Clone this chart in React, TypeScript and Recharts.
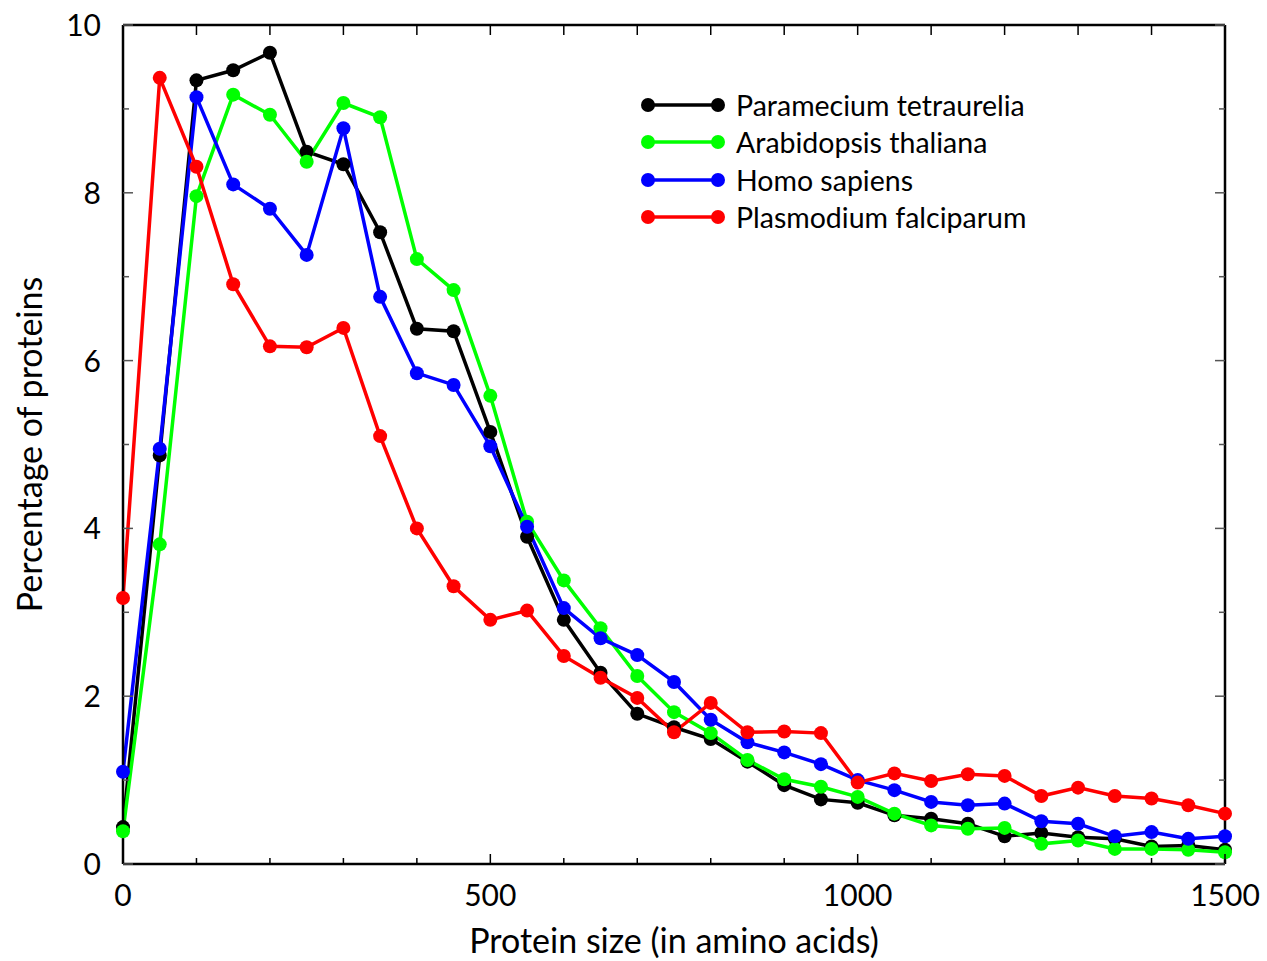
import { Legend, Line, LineChart, XAxis, YAxis } from "recharts"

const proteinSize = [
  0, 50, 100, 150, 200, 250, 300, 350, 400, 450, 500, 550, 600, 650, 700, 750,
  800, 850, 900, 950, 1000, 1050, 1100, 1150, 1200, 1250, 1300, 1350, 1400, 1450, 1500,
]

const paramecium = [
  0.44, 4.87, 9.34, 9.46, 9.67, 8.49, 8.34, 7.53, 6.38, 6.35, 5.15, 3.9, 2.91, 2.28, 1.79, 1.63,
  1.49, 1.22, 0.94, 0.77, 0.73, 0.58, 0.54, 0.48, 0.33, 0.37, 0.32, 0.3, 0.21, 0.22, 0.17,
]
const arabidopsis = [
  0.39, 3.81, 7.96, 9.17, 8.93, 8.37, 9.07, 8.9, 7.21, 6.84, 5.58, 4.08, 3.38, 2.81, 2.24, 1.81,
  1.56, 1.24, 1.01, 0.92, 0.8, 0.6, 0.46, 0.42, 0.43, 0.24, 0.28, 0.18, 0.18, 0.17, 0.14,
]
const homo = [
  1.1, 4.95, 9.14, 8.1, 7.81, 7.26, 8.77, 6.76, 5.85, 5.71, 4.98, 4.02, 3.05, 2.69, 2.49, 2.17,
  1.72, 1.45, 1.33, 1.19, 1.0, 0.88, 0.74, 0.7, 0.72, 0.51, 0.48, 0.33, 0.38, 0.3, 0.33,
]
const plasmodium = [
  3.17, 9.37, 8.31, 6.91, 6.17, 6.16, 6.39, 5.1, 4.0, 3.31, 2.91, 3.02, 2.48, 2.22, 1.98, 1.57,
  1.92, 1.57, 1.58, 1.56, 0.97, 1.08, 0.99, 1.07, 1.05, 0.81, 0.91, 0.81, 0.78, 0.7, 0.6,
]

const xTicks = [0, 100, 200, 300, 400, 500, 600, 700, 800, 900, 1000, 1100, 1200, 1300, 1400, 1500]
const xLabels = [0, 500, 1000, 1500]
const yTicks = [0, 1, 2, 3, 4, 5, 6, 7, 8, 9, 10]
const yLabels = [0, 2, 4, 6, 8, 10]

// x/y axis ids: the frame axes (top, right) get bound to series so they draw
const series = [
  { key: "paramecium", name: "Paramecium tetraurelia", color: "#000000", values: paramecium, xId: "bottom", yId: "left" },
  { key: "arabidopsis", name: "Arabidopsis thaliana", color: "#00ff00", values: arabidopsis, xId: "top", yId: "left" },
  { key: "homo", name: "Homo sapiens", color: "#0000ff", values: homo, xId: "bottom", yId: "right" },
  { key: "plasmodium", name: "Plasmodium falciparum", color: "#ff0000", values: plasmodium, xId: "bottom", yId: "left" },
]

const data = proteinSize.map((size, i) => {
  const row: any = { size }
  series.forEach((s) => (row[s.key] = s.values[i]))
  return row
})

const FONT = "Lato, 'Open Sans', sans-serif"

const BottomTick = ({ x, y, payload }: any) => {
  const major = xLabels.includes(payload.value)
  return (
    <g>
      <line x1={x} y1={y} x2={x} y2={y - (major ? 10 : 6)} stroke="#000" strokeWidth={1.5} />
      {major && (
        <text x={x} y={y + 42} textAnchor="middle" fontSize={30} fontFamily={FONT} fill="#000">
          {payload.value}
        </text>
      )}
    </g>
  )
}

const TopTick = ({ x, y }: any) => (
  <line x1={x} y1={y} x2={x} y2={y + 10} stroke="#000" strokeWidth={1.5} />
)

const LeftTick = ({ x, y, payload }: any) => {
  const major = yLabels.includes(payload.value)
  return (
    <g>
      <line x1={x} y1={y} x2={x + (major ? 10 : 6)} y2={y} stroke="#555" strokeWidth={1.5} />
      {major && (
        <text x={x - 22} y={y + 11} textAnchor="end" fontSize={30} fontFamily={FONT} fill="#000">
          {payload.value}
        </text>
      )}
    </g>
  )
}

const RightTick = ({ x, y, payload }: any) => {
  const major = yLabels.includes(payload.value)
  return <line x1={x} y1={y} x2={x - (major ? 10 : 6)} y2={y} stroke="#555" strokeWidth={1.5} />
}

const YTitle = ({ viewBox }: any) => {
  const cx = 28
  const cy = viewBox.y + viewBox.height / 2
  return (
    <text
      x={cx}
      y={cy}
      transform={`rotate(-90 ${cx} ${cy})`}
      textAnchor="middle"
      dominantBaseline="central"
      fontSize={34}
      fontFamily={FONT}
      fill="#000"
    >
      Percentage of proteins
    </text>
  )
}

const XTitle = ({ viewBox }: any) => (
  <text
    x={viewBox.x + viewBox.width / 2}
    y={viewBox.y + 89}
    textAnchor="middle"
    fontSize={34}
    fontFamily={FONT}
    fill="#000"
  >
    Protein size (in amino acids)
  </text>
)

const LegendContent = () => (
  <div style={{ fontFamily: FONT, fontSize: 28.5 }}>
    {series.map((s) => (
      <div key={s.key} style={{ display: "flex", alignItems: "center", height: 37.5 }}>
        <svg width={96} height={20} style={{ flex: "none" }}>
          <line x1={8} y1={10} x2={78} y2={10} stroke={s.color} strokeWidth={3.5} />
          <circle cx={8} cy={10} r={7} fill={s.color} />
          <circle cx={78} cy={10} r={7} fill={s.color} />
        </svg>
        <span style={{ color: "#000", whiteSpace: "nowrap" }}>{s.name}</span>
      </div>
    ))}
  </div>
)

export default function App() {
  return (
    <div style={{ position: "absolute", left: 0, top: 0, background: "#fff" }}>
      <LineChart width={1267} height={961} data={data} margin={{ top: 24, right: 41, bottom: 0, left: 0 }}>
        <XAxis
          xAxisId="bottom"
          dataKey="size"
          type="number"
          domain={[0, 1500]}
          ticks={xTicks}
          interval={0}
          height={97}
          tickSize={0}
          tickMargin={0}
          tickLine={false}
          axisLine={{ stroke: "#000", strokeWidth: 2.5 }}
          tick={<BottomTick />}
          label={<XTitle />}
        />
        <XAxis
          xAxisId="top"
          orientation="top"
          dataKey="size"
          type="number"
          domain={[0, 1500]}
          ticks={xTicks}
          interval={0}
          height={1}
          tickSize={0}
          tickMargin={0}
          tickLine={false}
          axisLine={{ stroke: "#000", strokeWidth: 2.5 }}
          tick={<TopTick />}
        />
        <YAxis
          yAxisId="left"
          type="number"
          domain={[0, 10]}
          ticks={yTicks}
          interval={0}
          width={123}
          tickSize={0}
          tickMargin={0}
          tickLine={false}
          axisLine={{ stroke: "#000", strokeWidth: 2.5 }}
          tick={<LeftTick />}
          label={<YTitle />}
        />
        <YAxis
          yAxisId="right"
          orientation="right"
          type="number"
          domain={[0, 10]}
          ticks={yTicks}
          interval={0}
          width={1}
          tickSize={0}
          tickMargin={0}
          tickLine={false}
          axisLine={{ stroke: "#000", strokeWidth: 2.5 }}
          tick={<RightTick />}
        />
        <Legend
          layout="vertical"
          align="center"
          verticalAlign="middle"
          wrapperStyle={{ left: 640, top: 86, width: 440 }}
          content={<LegendContent />}
        />
        {series.map((s) => (
          <Line
            key={s.key}
            xAxisId={s.xId}
            yAxisId={s.yId}
            dataKey={s.key}
            name={s.name}
            stroke={s.color}
            strokeWidth={3.5}
            dot={{ r: 7, fill: s.color, stroke: s.color, strokeWidth: 0 }}
            activeDot={false}
            isAnimationActive={false}
          />
        ))}
      </LineChart>
    </div>
  )
}
